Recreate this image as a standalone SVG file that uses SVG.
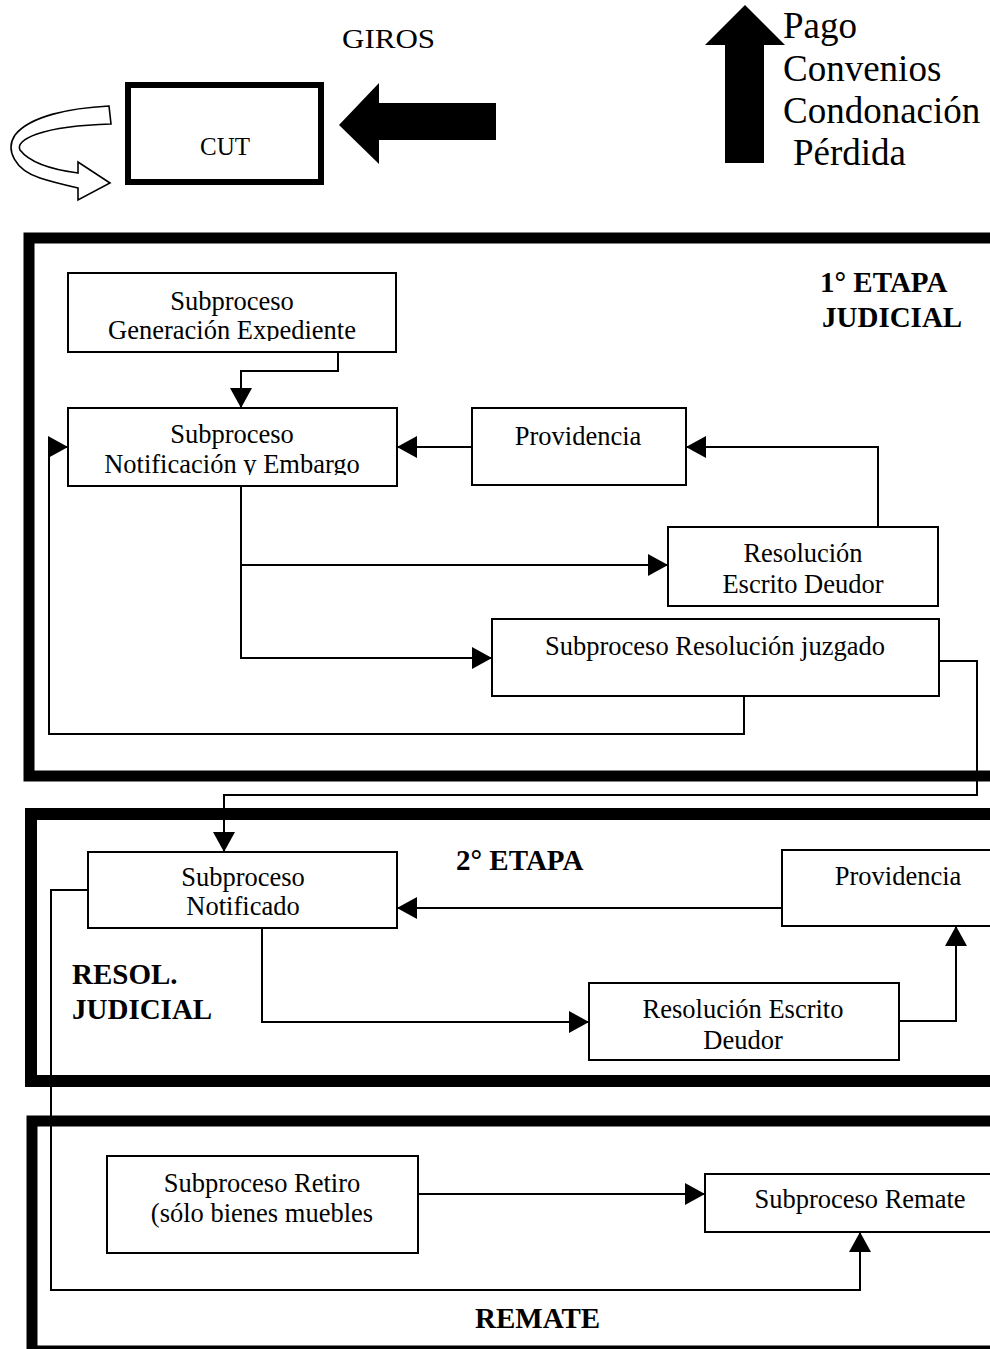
<svg xmlns="http://www.w3.org/2000/svg" width="990" height="1349" viewBox="0 0 990 1349">
<style>
.bx{fill:#fff;stroke:#000;stroke-width:2}
.sec{fill:none;stroke:#000}
.t{font-family:"Liberation Serif","Times New Roman",serif;font-size:26.5px;fill:#000;text-anchor:middle}
.h{font-family:"Liberation Serif","Times New Roman",serif;font-size:29px;font-weight:bold;fill:#000}
.big{font-family:"Liberation Serif","Times New Roman",serif;font-size:37px;fill:#000}
.cn path{fill:none;stroke:#000;stroke-width:2;marker-end:url(#ah)}
</style>
<defs>
<marker id="ah" markerUnits="userSpaceOnUse" markerWidth="20" markerHeight="22" refX="20" refY="11" orient="auto">
<path d="M0,0 L20,11 L0,22 Z" fill="#000"/>
</marker>
<clipPath id="clipGen"><rect x="68" y="273" width="328" height="68"/></clipPath>
<clipPath id="clipNot"><rect x="68" y="408" width="329" height="67"/></clipPath>
</defs>
<rect width="990" height="1349" fill="#fff"/>

<g id="sections">
<rect class="sec" x="29" y="238" width="990" height="538" stroke-width="11"/>
<rect class="sec" x="31" y="814" width="990" height="267" stroke-width="12"/>
<rect class="sec" x="32" y="1121" width="990" height="230" stroke-width="11"/>
</g>

<g id="top">
<text x="342" y="48" style="font-family:'Liberation Serif','Times New Roman',serif;font-size:28px" textLength="93" lengthAdjust="spacingAndGlyphs">GIROS</text>
<polygon points="339,125 379,83 379,103 496,103 496,140 379,140 379,164" fill="#000"/>
<polygon points="745,5 785,45 764,45 764,163 725,163 725,45 705,45" fill="#000"/>
<text class="big" x="783" y="38">Pago</text>
<text class="big" x="783" y="81">Convenios</text>
<text class="big" x="783" y="123">Condonación</text>
<text class="big" x="793" y="165">Pérdida</text>
<path d="M109,106 C70,108 30,116 15,135 C5,150 15,170 40,178 C52,182 65,185 78,188 L78,200 L110,183 L78,162 L78,173 C55,170 30,163 20,150 C15,140 40,126 111,124 Z" fill="#fff" stroke="#000" stroke-width="1.6"/>
</g>

<g id="cut">
<rect x="128" y="85" width="193" height="97" fill="#fff" stroke="#000" stroke-width="6"/>
<text class="t" x="225" y="155" style="font-size:25px">CUT</text>
</g>

<g id="labels">
<text class="h" x="820" y="292">1° ETAPA</text>
<text class="h" x="822" y="327">JUDICIAL</text>
<text class="h" x="456" y="870">2° ETAPA</text>
<text class="h" x="72" y="984">RESOL.</text>
<text class="h" x="72" y="1019">JUDICIAL</text>
<text class="h" x="475" y="1328">REMATE</text>
</g>

<g class="cn" id="connectors">
<path d="M338,352 V371 H241 V408"/>
<path d="M472,447 H397"/>
<path d="M878,527 V447 H686"/>
<path d="M241,486 V658 H492"/>
<path d="M241,565 H668"/>
<path d="M744,696 V734 H49 V447 H68"/>
<path d="M939,661 H977 V795 H224 V852"/>
<path d="M782,908 H397"/>
<path d="M262,928 V1022 H589"/>
<path d="M899,1021 H956 V926"/>
<path d="M88,890 H51 V1290 H860 V1232"/>
<path d="M418,1194 H705"/>
</g>

<g id="genExp">
<rect class="bx" x="68" y="273" width="328" height="79"/>
<text class="t" x="232" y="310">Subproceso</text>
<text class="t" x="232" y="339" clip-path="url(#clipGen)">Generación Expediente</text>
</g>
<g id="notifEmb">
<rect class="bx" x="68" y="408" width="329" height="78"/>
<text class="t" x="232" y="443">Subproceso</text>
<text class="t" x="232" y="473" clip-path="url(#clipNot)">Notificación y Embargo</text>
</g>
<g id="prov1">
<rect class="bx" x="472" y="408" width="214" height="77"/>
<text class="t" x="578" y="445">Providencia</text>
</g>
<g id="resol1">
<rect class="bx" x="668" y="527" width="270" height="79"/>
<text class="t" x="803" y="562">Resolución</text>
<text class="t" x="803" y="593">Escrito Deudor</text>
</g>
<g id="juzgado">
<rect class="bx" x="492" y="619" width="447" height="77"/>
<text class="t" x="715" y="655">Subproceso Resolución juzgado</text>
</g>
<g id="notificado">
<rect class="bx" x="88" y="852" width="309" height="76"/>
<text class="t" x="243" y="886">Subproceso</text>
<text class="t" x="243" y="915">Notificado</text>
</g>
<g id="prov2">
<rect class="bx" x="782" y="850" width="230" height="76"/>
<text class="t" x="898" y="885">Providencia</text>
</g>
<g id="resolED">
<rect class="bx" x="589" y="983" width="310" height="77"/>
<text class="t" x="743" y="1018">Resolución Escrito</text>
<text class="t" x="743" y="1049">Deudor</text>
</g>
<g id="retiro">
<rect class="bx" x="107" y="1156" width="311" height="97"/>
<text class="t" x="262" y="1192">Subproceso Retiro</text>
<text class="t" x="262" y="1222">(sólo bienes muebles</text>
</g>
<g id="remate">
<rect class="bx" x="705" y="1174" width="310" height="58"/>
<text class="t" x="860" y="1208">Subproceso Remate</text>
</g>
</svg>
